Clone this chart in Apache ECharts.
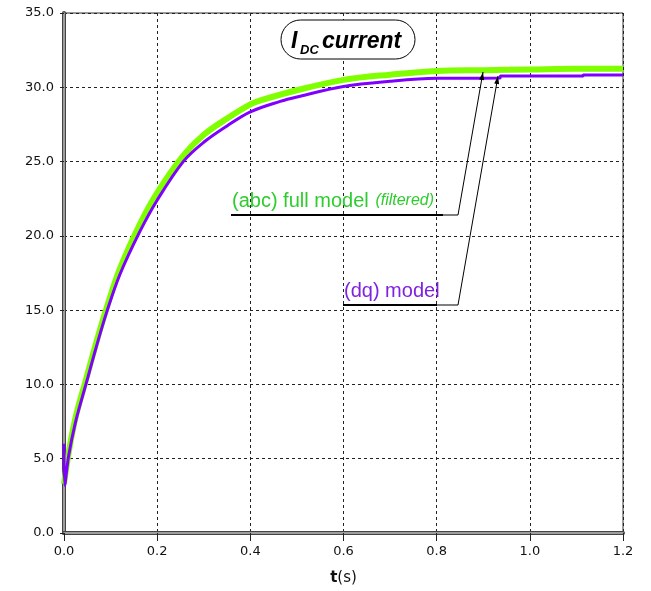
<!DOCTYPE html>
<html>
<head>
<meta charset="utf-8">
<script src="https://cdn.jsdelivr.net/npm/echarts@6/dist/echarts.min.js"></script>
<style>
html,body{margin:0;padding:0;background:#fff;}
#chart{width:651px;height:591px;}
</style>
</head>
<body>
<div id="chart"></div>
<script>
// (dq) model current
const tDq = [0, 0.0015, 0.01, 0.025, 0.047, 0.07, 0.092, 0.12, 0.163, 0.2, 0.256, 0.3, 0.35, 0.4, 0.464, 0.5, 0.6, 0.7, 0.8, 0.936, 0.937, 1.114, 1.115, 1.2];
const iDq = [6.0, 3.2, 5.2, 7.5, 10.0, 12.6, 14.9, 17.4, 20.3, 22.4, 25.0, 26.3, 27.4, 28.35, 29.05, 29.35, 30.05, 30.4, 30.6, 30.62, 30.76, 30.76, 30.83, 30.83];
// (abc) full model (filtered)
const tAbc = [0, 0.01, 0.025, 0.047, 0.07, 0.092, 0.12, 0.163, 0.2, 0.256, 0.3, 0.35, 0.4, 0.42, 0.5, 0.6, 0.7, 0.8, 0.9, 1.0, 1.1, 1.2];
const iAbc = [3.3, 5.4, 7.8, 10.3, 12.9, 15.2, 17.8, 20.8, 22.9, 25.4, 26.8, 27.9, 28.85, 29.1, 29.8, 30.5, 30.85, 31.1, 31.15, 31.2, 31.25, 31.25];
const xMin = 0, xMax = 1.2, xStep = 0.2;
const yMin = 0, yMax = 35, yStep = 5;
const seriesNames = ['(abc) full model (filtered)', '(dq) model'];

const zip = (a, b) => a.map((v, i) => [v, b[i]]);
const chart = echarts.init(document.getElementById('chart'), null, {renderer: 'canvas'});
const labelFont = {fontFamily: 'DejaVu Sans', fontSize: 13, color: '#111'};

const axisCommon = {
  splitLine: {show: true, lineStyle: {color: '#222', width: 1, type: [3, 3]}},
  axisLine: {show: true, lineStyle: {color: '#444', width: 4}},
};

const option = {
  animation: false,
  backgroundColor: '#fff',
  grid: {left: 64, right: 28, top: 13, bottom: 58, show: true, borderColor: '#333', borderWidth: 1},
  xAxis: [{
    type: 'value', min: xMin, max: xMax, interval: xStep,
    ...axisCommon,
    axisTick: {show: true, length: 8, lineStyle: {color: '#222'}},
    axisLabel: {...labelFont, margin: 12, formatter: v => v.toFixed(1)},
    name: '{b|t}{n|(s)}', nameLocation: 'middle', nameGap: 38,
    nameTextStyle: {rich: {b: {fontFamily: 'DejaVu Sans', fontSize: 15, fontWeight: 'bold', color: '#111'},
                           n: {fontFamily: 'DejaVu Sans', fontSize: 15, color: '#111'}}}
  }, {
    type: 'value', min: xMin, max: xMax, position: 'bottom', gridIndex: 0,
    axisLine: {show: true, lineStyle: {color: '#bbb', width: 1.5}},
    axisTick: {show: false}, axisLabel: {show: false}, splitLine: {show: false}
  }],
  yAxis: [{
    type: 'value', min: yMin, max: yMax, interval: yStep,
    ...axisCommon,
    axisTick: {show: true, length: 4, lineStyle: {color: '#222'}},
    axisLabel: {...labelFont, margin: 10, formatter: v => v.toFixed(1)}
  }, {
    type: 'value', min: yMin, max: yMax, position: 'left', gridIndex: 0,
    axisLine: {show: true, lineStyle: {color: '#bbb', width: 1.5}},
    axisTick: {show: false}, axisLabel: {show: false}, splitLine: {show: false}
  }],
  series: [{
    name: seriesNames[0], type: 'line', showSymbol: false, symbol: 'none',
    smooth: 0.35,
    data: zip(tAbc, iAbc), xAxisIndex: 0, yAxisIndex: 0,
    lineStyle: {color: '#80ff00', width: 6}, z: 3
  }, {
    name: seriesNames[1], type: 'line', showSymbol: false, symbol: 'none',
    smooth: 0.35,
    data: zip(tDq, iDq), xAxisIndex: 0, yAxisIndex: 0,
    lineStyle: {color: '#8000ff', width: 3}, z: 4
  }],
  graphic: [
    {type: 'rect', z: 100, shape: {x: 281, y: 20, width: 134, height: 39, r: 19.5},
     style: {fill: '#fff', stroke: '#000', lineWidth: 1}},
    {type: 'text', z: 101, x: 291, y: 53, style: {text: 'I', font: 'italic bold 23px "Liberation Sans"', fill: '#000', textVerticalAlign: 'bottom'}},
    {type: 'text', z: 101, x: 300, y: 57, style: {text: 'DC', font: 'italic bold 13px "Liberation Sans"', fill: '#000', textVerticalAlign: 'bottom'}},
    {type: 'text', z: 101, x: 322, y: 53, style: {text: 'current', font: 'italic bold 23px "Liberation Sans"', fill: '#000', textVerticalAlign: 'bottom'}},
    // (abc) label
    {type: 'text', z: 101, x: 232, y: 211, style: {
      text: '{a|(abc) full model}  {b|(filtered)}', textVerticalAlign: 'bottom',
      rich: {a: {fontFamily: 'Liberation Sans', fontSize: 20, fill: '#2ecc2e'},
             b: {fontFamily: 'Liberation Sans', fontSize: 16, fontStyle: 'italic', fill: '#2ecc2e'}}}},
    {type: 'line', z: 101, shape: {x1: 231, y1: 215, x2: 443, y2: 215}, style: {stroke: '#000', lineWidth: 2}},
    {type: 'polyline', z: 101, shape: {points: [[443, 215], [458, 215], [483, 72]]}, style: {stroke: '#000', lineWidth: 1, fill: null}},
    {type: 'polygon', z: 101, shape: {points: [[483, 72], [484.1, 80.3], [479.2, 79.4]]}, style: {fill: '#000'}},
    // (dq) label
    {type: 'text', z: 101, x: 344, y: 301, style: {
      text: '(dq) model', textVerticalAlign: 'bottom',
      font: '20px "Liberation Sans"', fill: '#8020e0'}},
    {type: 'line', z: 101, shape: {x1: 343, y1: 305, x2: 437, y2: 305}, style: {stroke: '#000', lineWidth: 2}},
    {type: 'polyline', z: 101, shape: {points: [[437, 305], [458, 305], [498, 76]]}, style: {stroke: '#000', lineWidth: 1, fill: null}},
    {type: 'polygon', z: 101, shape: {points: [[498, 76], [499.1, 84.3], [494.2, 83.5]]}, style: {fill: '#000'}}
  ]
};
chart.setOption(option);
</script>
</body>
</html>
